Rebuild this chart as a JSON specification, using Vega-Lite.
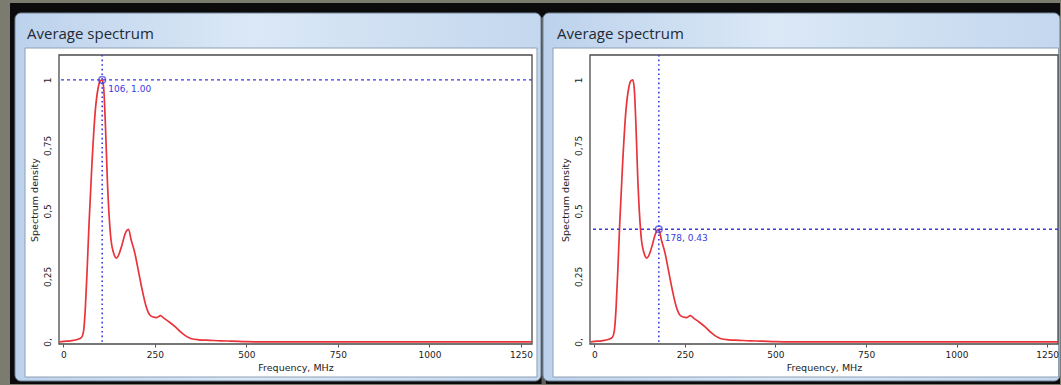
{
  "$schema": "https://vega.github.io/schema/vega-lite/v6.json",
  "background": "#7b7c6f",
  "padding": {"left": 10, "top": 3, "right": 1, "bottom": 1},
  "autosize": {"type": "pad"},
  "bounds": "flush",
  "spacing": 58,
  "config": {
    "view": {"stroke": null},
    "axis": {"grid": false, "domain": false, "labelFont": "DejaVu Sans", "labelFontSize": 9, "labelColor": "#222222", "titleFont": "DejaVu Sans", "titleFontSize": 9.5, "titleFontWeight": "normal", "titleColor": "#222222"}
  },
  "datasets": {
    "one": [{"n": 1}],
    "spectrum": [
      {"freq": -10, "density": 0},
      {"freq": 0, "density": 0.002},
      {"freq": 20, "density": 0.004},
      {"freq": 40, "density": 0.01},
      {"freq": 50, "density": 0.018},
      {"freq": 55, "density": 0.04},
      {"freq": 60, "density": 0.13},
      {"freq": 65, "density": 0.28},
      {"freq": 70, "density": 0.45},
      {"freq": 78, "density": 0.68},
      {"freq": 87, "density": 0.88},
      {"freq": 95, "density": 0.97},
      {"freq": 100, "density": 0.995},
      {"freq": 106, "density": 1.0},
      {"freq": 110, "density": 0.97},
      {"freq": 115, "density": 0.82},
      {"freq": 120, "density": 0.62},
      {"freq": 125, "density": 0.48},
      {"freq": 130, "density": 0.39},
      {"freq": 137, "density": 0.34},
      {"freq": 145, "density": 0.32},
      {"freq": 152, "density": 0.335},
      {"freq": 160, "density": 0.37},
      {"freq": 168, "density": 0.41},
      {"freq": 173, "density": 0.425},
      {"freq": 178, "density": 0.43},
      {"freq": 185, "density": 0.39},
      {"freq": 195, "density": 0.34},
      {"freq": 205, "density": 0.27},
      {"freq": 215, "density": 0.2},
      {"freq": 225, "density": 0.14},
      {"freq": 235, "density": 0.105},
      {"freq": 245, "density": 0.095},
      {"freq": 255, "density": 0.093},
      {"freq": 265, "density": 0.1},
      {"freq": 275, "density": 0.09},
      {"freq": 290, "density": 0.075},
      {"freq": 305, "density": 0.058},
      {"freq": 320, "density": 0.038},
      {"freq": 335, "density": 0.022},
      {"freq": 350, "density": 0.012},
      {"freq": 370, "density": 0.008},
      {"freq": 400, "density": 0.006},
      {"freq": 430, "density": 0.004},
      {"freq": 460, "density": 0.003},
      {"freq": 500, "density": 0.001},
      {"freq": 550, "density": 0},
      {"freq": 1280, "density": 0}
    ],
    "cursorLeft": [{"freq": 106, "density": 1.0, "label": "106, 1.00"}],
    "cursorRight": [{"freq": 178, "density": 0.43, "label": "178, 0.43"}]
  },
  "hconcat": [
    {
      "width": 473,
      "height": 289,
      "data": {"name": "one"},
      "layer": [
        {
          "mark": {"type": "rect", "fill": "#0b0b0b"},
          "encoding": {
            "x": {"datum": -145.84, "type": "quantitative", "scale": {"domain": [-12, 1280], "nice": false, "zero": false},
              "axis": {"zindex": 2, "title": "Frequency, MHz", "values": [0, 250, 500, 750, 1000, 1250], "format": "d", "ticks": true, "tickSize": 3, "tickColor": "#555555", "labelPadding": 3, "titlePadding": 3, "labelFlush": false}},
            "x2": {"datum": 2722.2},
            "y": {"datum": 1.29346, "type": "quantitative", "scale": {"domain": [-0.008, 1.095], "nice": false, "zero": false},
              "axis": {"zindex": 2, "title": "Spectrum density", "values": [0, 0.25, 0.5, 0.75, 1], "ticks": false, "labelAngle": 270, "labelAlign": "center", "labelBaseline": "bottom", "labelPadding": 7, "titlePadding": 4, "labelFlush": false, "labelExpr": "datum.value == 0 ? '0,' : replace(format(datum.value, ''), '.', ',')"}},
            "y2": {"datum": -0.16068}
          }
        },
        {
          "mark": {"type": "rect", "fill": "#5e5f5c"},
          "encoding": {
            "x": {"datum": 1306, "type": "quantitative", "scale": {"domain": [-12, 1280], "nice": false, "zero": false}},
            "x2": {"datum": 1318},
            "y": {"datum": 1.24, "type": "quantitative", "scale": {"domain": [-0.008, 1.095], "nice": false, "zero": false}},
            "y2": {"datum": -0.16068}
          }
        },
        {
          "mark": {"type": "rect", "fill": {"gradient": "linear", "x1": 0, "y1": 0, "x2": 1, "y2": 0, "stops": [{"offset": 0, "color": "#bcd2ec"}, {"offset": 0.45, "color": "#dbe8f6"}, {"offset": 1, "color": "#c3d7ee"}]}, "stroke": "#6f7f92", "strokeWidth": 1, "cornerRadius": 6},
          "encoding": {
            "x": {"datum": -132.19, "type": "quantitative", "scale": {"domain": [-12, 1280], "nice": false, "zero": false}},
            "x2": {"datum": 1304.6},
            "y": {"datum": 1.2553, "type": "quantitative", "scale": {"domain": [-0.008, 1.095], "nice": false, "zero": false}},
            "y2": {"datum": -0.1492}
          }
        },
        {
          "mark": {"type": "rect", "fill": "#ffffff", "stroke": "#8c9fb5", "strokeWidth": 1},
          "encoding": {
            "x": {"datum": -104.87, "type": "quantitative", "scale": {"domain": [-12, 1280], "nice": false, "zero": false}},
            "x2": {"datum": 1293.6},
            "y": {"datum": 1.1217, "type": "quantitative", "scale": {"domain": [-0.008, 1.095], "nice": false, "zero": false}},
            "y2": {"datum": -0.134}
          }
        },
        {
          "mark": {"type": "rect", "fill": "#ffffff", "stroke": "#4a4a4a", "strokeWidth": 1.3},
          "encoding": {
            "x": {"datum": -12, "type": "quantitative", "scale": {"domain": [-12, 1280], "nice": false, "zero": false}},
            "x2": {"datum": 1280},
            "y": {"datum": 1.095, "type": "quantitative", "scale": {"domain": [-0.008, 1.095], "nice": false, "zero": false}},
            "y2": {"datum": -0.008}
          }
        },
        {
          "mark": {"type": "text", "text": "Average spectrum", "font": "Open Sans", "fontSize": 15, "color": "#1f2a36", "align": "left", "baseline": "alphabetic"},
          "encoding": {
            "x": {"datum": -99.4, "type": "quantitative", "scale": {"domain": [-12, 1280], "nice": false, "zero": false}},
            "y": {"datum": 1.1561, "type": "quantitative", "scale": {"domain": [-0.008, 1.095], "nice": false, "zero": false}}
          }
        },
        {
          "data": {"name": "spectrum"},
          "mark": {"type": "line", "color": "#e8343a", "strokeWidth": 1.7, "interpolate": "monotone"},
          "encoding": {
            "x": {"field": "freq", "type": "quantitative", "scale": {"domain": [-12, 1280], "nice": false, "zero": false}},
            "y": {"field": "density", "type": "quantitative", "scale": {"domain": [-0.008, 1.095], "nice": false, "zero": false}}
          }
        },
        {
          "data": {"name": "cursorLeft"},
          "mark": {"type": "rule", "color": "#3a3ae0", "strokeWidth": 1.6, "strokeDash": [1.6, 3]},
          "encoding": {"x": {"field": "freq", "type": "quantitative", "scale": {"domain": [-12, 1280], "nice": false, "zero": false}}}
        },
        {
          "data": {"name": "cursorLeft"},
          "mark": {"type": "rule", "color": "#3a3ae0", "strokeWidth": 1.3, "strokeDash": [3, 3]},
          "encoding": {"y": {"field": "density", "type": "quantitative", "scale": {"domain": [-0.008, 1.095], "nice": false, "zero": false}}}
        },
        {
          "data": {"name": "cursorLeft"},
          "mark": {"type": "point", "shape": "circle", "filled": false, "size": 45, "stroke": "#3a3ae0", "strokeWidth": 1.5},
          "encoding": {
            "x": {"field": "freq", "type": "quantitative", "scale": {"domain": [-12, 1280], "nice": false, "zero": false}},
            "y": {"field": "density", "type": "quantitative", "scale": {"domain": [-0.008, 1.095], "nice": false, "zero": false}}
          }
        },
        {
          "data": {"name": "cursorLeft"},
          "mark": {"type": "text", "font": "DejaVu Sans", "fontSize": 9, "color": "#3a3ae0", "align": "left", "baseline": "middle", "dx": 6, "dy": 9},
          "encoding": {
            "x": {"field": "freq", "type": "quantitative", "scale": {"domain": [-12, 1280], "nice": false, "zero": false}},
            "y": {"field": "density", "type": "quantitative", "scale": {"domain": [-0.008, 1.095], "nice": false, "zero": false}},
            "text": {"field": "label"}
          }
        }
      ]
    },
    {
      "width": 468,
      "height": 289,
      "data": {"name": "one"},
      "layer": [
        {
          "mark": {"type": "rect", "fill": {"gradient": "linear", "x1": 0, "y1": 0, "x2": 1, "y2": 0, "stops": [{"offset": 0, "color": "#bcd2ec"}, {"offset": 0.45, "color": "#dbe8f6"}, {"offset": 1, "color": "#c3d7ee"}]}, "stroke": "#6f7f92", "strokeWidth": 1, "cornerRadius": 6},
          "encoding": {
            "x": {"datum": -141.75, "type": "quantitative", "scale": {"domain": [-12, 1280], "nice": false, "zero": false},
              "axis": {"zindex": 2, "title": "Frequency, MHz", "values": [0, 250, 500, 750, 1000, 1250], "format": "d", "ticks": true, "tickSize": 3, "tickColor": "#555555", "labelPadding": 3, "titlePadding": 3, "labelFlush": false}},
            "x2": {"datum": 1285.5},
            "y": {"datum": 1.2553, "type": "quantitative", "scale": {"domain": [-0.008, 1.095], "nice": false, "zero": false},
              "axis": {"zindex": 2, "title": "Spectrum density", "values": [0, 0.25, 0.5, 0.75, 1], "ticks": false, "labelAngle": 270, "labelAlign": "center", "labelBaseline": "bottom", "labelPadding": 7, "titlePadding": 4, "labelFlush": false, "labelExpr": "datum.value == 0 ? '0,' : replace(format(datum.value, ''), '.', ',')"}},
            "y2": {"datum": -0.1492}
          }
        },
        {
          "mark": {"type": "rect", "fill": "#ffffff", "stroke": "#8c9fb5", "strokeWidth": 1},
          "encoding": {
            "x": {"datum": -114.14, "type": "quantitative", "scale": {"domain": [-12, 1280], "nice": false, "zero": false}},
            "x2": {"datum": 1281.4},
            "y": {"datum": 1.1217, "type": "quantitative", "scale": {"domain": [-0.008, 1.095], "nice": false, "zero": false}},
            "y2": {"datum": -0.134}
          }
        },
        {
          "mark": {"type": "rect", "fill": "#ffffff", "stroke": "#4a4a4a", "strokeWidth": 1.3},
          "encoding": {
            "x": {"datum": -12, "type": "quantitative", "scale": {"domain": [-12, 1280], "nice": false, "zero": false}},
            "x2": {"datum": 1280},
            "y": {"datum": 1.095, "type": "quantitative", "scale": {"domain": [-0.008, 1.095], "nice": false, "zero": false}},
            "y2": {"datum": -0.008}
          }
        },
        {
          "mark": {"type": "text", "text": "Average spectrum", "font": "Open Sans", "fontSize": 15, "color": "#1f2a36", "align": "left", "baseline": "alphabetic"},
          "encoding": {
            "x": {"datum": -103.1, "type": "quantitative", "scale": {"domain": [-12, 1280], "nice": false, "zero": false}},
            "y": {"datum": 1.1561, "type": "quantitative", "scale": {"domain": [-0.008, 1.095], "nice": false, "zero": false}}
          }
        },
        {
          "data": {"name": "spectrum"},
          "mark": {"type": "line", "color": "#e8343a", "strokeWidth": 1.7, "interpolate": "monotone"},
          "encoding": {
            "x": {"field": "freq", "type": "quantitative", "scale": {"domain": [-12, 1280], "nice": false, "zero": false}},
            "y": {"field": "density", "type": "quantitative", "scale": {"domain": [-0.008, 1.095], "nice": false, "zero": false}}
          }
        },
        {
          "data": {"name": "cursorRight"},
          "mark": {"type": "rule", "color": "#3a3ae0", "strokeWidth": 1.6, "strokeDash": [1.6, 3]},
          "encoding": {"x": {"field": "freq", "type": "quantitative", "scale": {"domain": [-12, 1280], "nice": false, "zero": false}}}
        },
        {
          "data": {"name": "cursorRight"},
          "mark": {"type": "rule", "color": "#3a3ae0", "strokeWidth": 1.3, "strokeDash": [3, 3]},
          "encoding": {"y": {"field": "density", "type": "quantitative", "scale": {"domain": [-0.008, 1.095], "nice": false, "zero": false}}}
        },
        {
          "data": {"name": "cursorRight"},
          "mark": {"type": "point", "shape": "circle", "filled": false, "size": 45, "stroke": "#3a3ae0", "strokeWidth": 1.5},
          "encoding": {
            "x": {"field": "freq", "type": "quantitative", "scale": {"domain": [-12, 1280], "nice": false, "zero": false}},
            "y": {"field": "density", "type": "quantitative", "scale": {"domain": [-0.008, 1.095], "nice": false, "zero": false}}
          }
        },
        {
          "data": {"name": "cursorRight"},
          "mark": {"type": "text", "font": "DejaVu Sans", "fontSize": 9, "color": "#3a3ae0", "align": "left", "baseline": "middle", "dx": 6, "dy": 9},
          "encoding": {
            "x": {"field": "freq", "type": "quantitative", "scale": {"domain": [-12, 1280], "nice": false, "zero": false}},
            "y": {"field": "density", "type": "quantitative", "scale": {"domain": [-0.008, 1.095], "nice": false, "zero": false}},
            "text": {"field": "label"}
          }
        }
      ]
    }
  ]
}
